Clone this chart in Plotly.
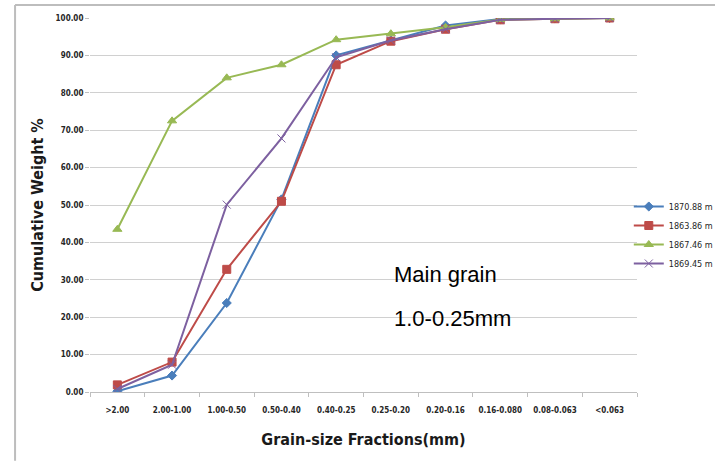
import plotly.graph_objects as go

# Grain-size fractions (mm) along the x axis
fractions = [">2.00", "2.00-1.00", "1.00-0.50", "0.50-0.40", "0.40-0.25",
             "0.25-0.20", "0.20-0.16", "0.16-0.080", "0.08-0.063", "<0.063"]

# Cumulative weight % for each sampled depth
depth_1870_88 = [0.2, 4.4, 23.8, 51.5, 90.0, 94.0, 98.0, 99.7, 99.9, 100.0]
depth_1863_86 = [1.9, 8.0, 32.8, 51.0, 87.5, 93.8, 97.0, 99.5, 99.8, 100.0]
depth_1867_46 = [43.5, 72.5, 84.0, 87.5, 94.2, 95.8, 97.5, 99.6, 99.8, 100.0]
depth_1869_45 = [0.8, 7.3, 50.1, 67.8, 89.5, 94.0, 97.0, 99.5, 99.8, 100.0]

y_ticks = [0, 10, 20, 30, 40, 50, 60, 70, 80, 90, 100]

series = [
    ("1870.88 m", depth_1870_88, "#4A7EBB", "diamond", 7),
    ("1863.86 m", depth_1863_86, "#BE4B48", "square", 8),
    ("1867.46 m", depth_1867_46, "#98B954", "triangle-up", 8),
    ("1869.45 m", depth_1869_45, "#7D60A0", "x-thin", 8),
]

fig = go.Figure()
for name, vals, color, symbol, size in series:
    fig.add_trace(go.Scatter(
        x=fractions, y=vals, name=name, mode="lines+markers",
        line=dict(color=color, width=2),
        marker=dict(symbol=symbol, size=size, color=color,
                    line=dict(color=color, width=1)),
    ))

COND = "DejaVu Sans Condensed, Liberation Sans Narrow, sans-serif"
tick_font = dict(family=COND, size=8, color="#262626")
title_font = dict(family=COND, size=16, color="#1a1a1a")

fig.update_layout(
    width=715, height=463,
    margin=dict(l=90, r=78, t=18, b=71, autoexpand=False),
    paper_bgcolor="white", plot_bgcolor="white",
    showlegend=True,
    legend=dict(x=0.985, y=(392 - 235) / 374, xanchor="left", yanchor="middle",
                font=dict(family=COND, size=9, color="#262626"),
                itemwidth=30, tracegroupgap=4, bgcolor="rgba(0,0,0,0)"),
    xaxis=dict(
        type="category", tickson="boundaries", ticks="outside", ticklen=4,
        tickcolor="#BFBFBF", showline=True, linecolor="#BFBFBF", linewidth=1,
        showgrid=False, tickfont=tick_font, tickangle=0, range=[-0.5, 9.5],
        ticklabelstandoff=10,
        ticktext=["<b>%s</b>" % f for f in fractions], tickvals=fractions,
        title=dict(text="<b>Grain-size Fractions(mm)</b>", font=title_font, standoff=20),
    ),
    yaxis=dict(
        range=[0, 100], tickvals=y_ticks,
        ticktext=["<b>%.2f</b>" % v for v in y_ticks],
        ticks="outside", ticklen=4, tickcolor="#BFBFBF",
        showgrid=True, gridcolor="#D0D0D0", gridwidth=1,
        showline=False, zeroline=False, tickfont=tick_font,
        title=dict(text="<b>Cumulative Weight %</b>", font=title_font, standoff=8),
    ),
    shapes=[
        # chart frame: left and top edges
        dict(type="line", xref="paper", yref="paper", x0=-0.137, x1=-0.137,
             y0=-0.184, y1=1.035, line=dict(color="#BDBDBD", width=2)),
        dict(type="line", xref="paper", yref="paper", x0=-0.137, x1=1.15,
             y0=1.035, y1=1.035, line=dict(color="#BDBDBD", width=2)),
    ],
    annotations=[
        dict(text="Main grain", xref="paper", yref="paper",
             x=(392 - 90) / 547, y=(392 - 274) / 374, xanchor="left", yanchor="middle",
             showarrow=False,
             font=dict(family="Liberation Sans, Arial, sans-serif", size=22, color="black")),
        dict(text="1.0-0.25mm", xref="paper", yref="paper",
             x=(392 - 90) / 547, y=(392 - 318) / 374, xanchor="left", yanchor="middle",
             showarrow=False,
             font=dict(family="Liberation Sans, Arial, sans-serif", size=22, color="black")),
    ],
)

fig.write_html("out.html")
